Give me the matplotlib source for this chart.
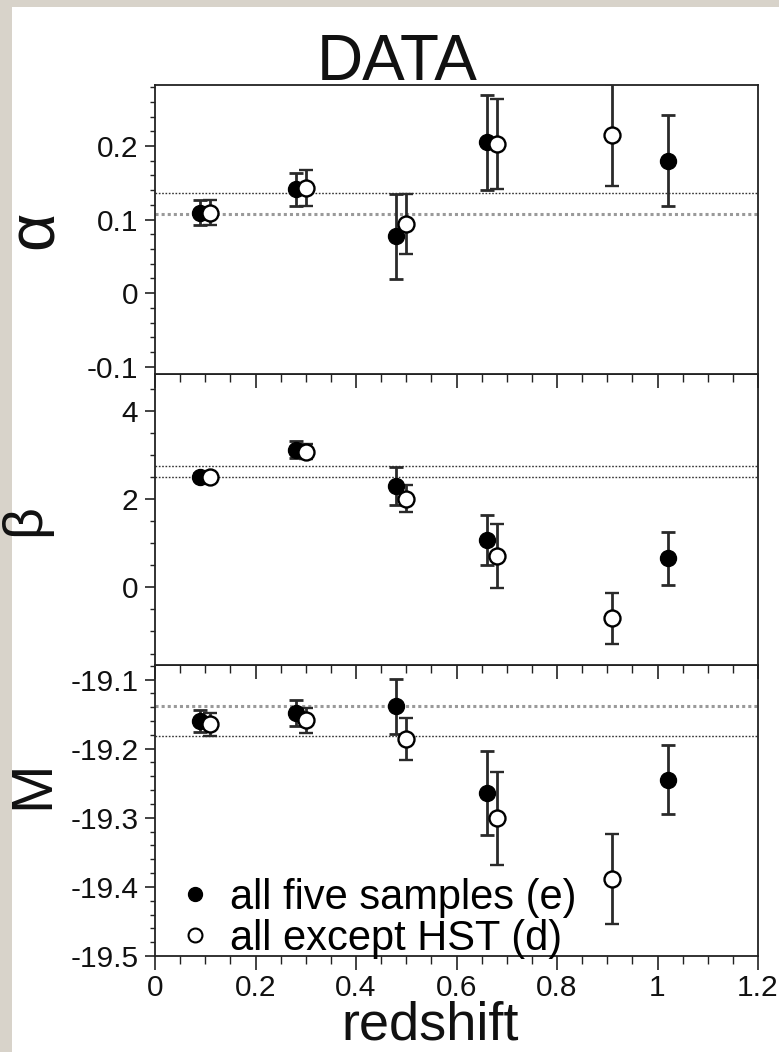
import matplotlib
matplotlib.use("Agg")
import matplotlib.pyplot as plt
from matplotlib.patches import Rectangle
from matplotlib.ticker import MultipleLocator
from matplotlib.lines import Line2D

plt.rcParams['font.family'] = ['Liberation Sans', 'DejaVu Sans']
plt.rcParams['axes.unicode_minus'] = False

# ---- data ----
z_e = [0.09, 0.28, 0.48, 0.66, 1.02]          # all five samples (e)
z_d = [0.11, 0.30, 0.50, 0.68, 0.91]          # all except HST (d)

alpha_e = [0.109, 0.141, 0.077, 0.205, 0.180]
alpha_e_err = [0.017, 0.023, 0.058, 0.065, 0.062]
alpha_d = [0.109, 0.143, 0.094, 0.203, 0.215]
alpha_d_err = [0.017, 0.024, 0.041, 0.061, 0.070]

beta_e = [2.50, 3.12, 2.29, 1.07, 0.66]
beta_e_err = [0.08, 0.20, 0.43, 0.57, 0.60]
beta_d = [2.49, 3.07, 2.01, 0.71, -0.70]
beta_d_err = [0.08, 0.17, 0.30, 0.73, 0.58]

M_e = [-19.160, -19.148, -19.139, -19.264, -19.245]
M_e_err = [0.016, 0.019, 0.040, 0.061, 0.050]
M_d = [-19.165, -19.159, -19.186, -19.301, -19.388]
M_d_err = [0.016, 0.018, 0.031, 0.067, 0.065]

alpha_ref = [0.136, 0.108]
beta_ref = [2.754, 2.505]
M_ref = [-19.138, -19.182]

x_ticks = [0, 0.2, 0.4, 0.6, 0.8, 1.0, 1.2]
x_ticklabels = ['0', '0.2', '0.4', '0.6', '0.8', '1', '1.2']
alpha_ticks = [-0.1, 0, 0.1, 0.2]
alpha_ticklabels = ['-0.1', '0', '0.1', '0.2']
beta_ticks = [0, 2, 4]
beta_ticklabels = ['0', '2', '4']
M_ticks = [-19.5, -19.4, -19.3, -19.2, -19.1]
M_ticklabels = ['-19.5', '-19.4', '-19.3', '-19.2', '-19.1']

legend_labels = ['all five samples (e)', 'all except HST (d)']

# ---- figure ----
W, H = 779, 1052
fig = plt.figure(figsize=(W / 100, H / 100), dpi=100, facecolor='#d8d3ca')
fig.patches.append(Rectangle((12 / W, 0), 1 - 12 / W, 1 - 7 / H,
                             transform=fig.transFigure, facecolor='white',
                             edgecolor='none', zorder=-10))

left = 155 / W
width = 603 / W
def ax_rect(top_px, bot_px):
    return [left, 1 - bot_px / H, width, (bot_px - top_px) / H]

ax_a = fig.add_axes(ax_rect(85, 374))
ax_b = fig.add_axes(ax_rect(374, 665))
ax_m = fig.add_axes(ax_rect(665, 956))

dark = '#222222'
ecol = '#2a2a2a'

panels = [
    (ax_a, alpha_e, alpha_e_err, alpha_d, alpha_d_err, alpha_ref,
     (-0.11, 0.283), alpha_ticks, alpha_ticklabels, 0.02, '\u03b1', 48,
     [('dark', 1.0), ('gray', 2.2)]),
    (ax_b, beta_e, beta_e_err, beta_d, beta_d_err, beta_ref,
     (-1.76, 4.83), beta_ticks, beta_ticklabels, 0.5, '\u03b2', 40,
     [('dark', 1.0), ('dark', 1.0)]),
    (ax_m, M_e, M_e_err, M_d, M_d_err, M_ref,
     (-19.5, -19.079), M_ticks, M_ticklabels, 0.02, 'M', 42,
     [('gray', 2.2), ('dark', 1.0)]),
]

for (ax, ye, yee, yd, yde, refs, ylim, yt, ytl, minor, lab, lfs, rstyles) in panels:
    ax.set_facecolor('white')
    ax.set_xlim(0, 1.2)
    ax.set_ylim(*ylim)
    for r, (c, lw) in zip(refs, rstyles):
        ax.axhline(r, color=('#333333' if c == 'dark' else '#9a9a9a'),
                   lw=lw, ls=(0, (1.2, 1.2)) if c == 'dark' else (0, (1, 1)),
                   zorder=1)
    ax.errorbar(z_e, ye, yerr=yee, fmt='o', ms=11.5, mfc='black', mec='black',
                ecolor=ecol, elinewidth=2.0, capsize=5, capthick=2.0, zorder=3)
    ax.errorbar(z_d, yd, yerr=yde, fmt='o', ms=11.5, mfc='white', mec='black',
                mew=1.7, ecolor=ecol, elinewidth=2.0, capsize=5, capthick=2.0,
                zorder=3)
    ax.set_yticks(yt)
    ax.set_yticklabels(ytl)
    ax.yaxis.set_minor_locator(MultipleLocator(minor))
    ax.set_xticks(x_ticks)
    ax.xaxis.set_minor_locator(MultipleLocator(0.05))
    ax.tick_params(axis='y', which='major', direction='out', length=7,
                   width=1.2, color=dark, labelsize=21.5, pad=5,
                   labelcolor='#111111')
    ax.tick_params(axis='y', which='minor', direction='out', length=3.5,
                   width=1.0, color=dark)
    ax.tick_params(axis='x', which='major', direction='out', length=10,
                   width=1.2, color=dark, labelsize=21.5, pad=3,
                   labelcolor='#111111')
    ax.tick_params(axis='x', which='minor', direction='out', length=5.5,
                   width=1.0, color=dark)
    for s in ax.spines.values():
        s.set_color(dark)
        s.set_linewidth(1.3)
    ax.set_ylabel(lab, fontsize=lfs, labelpad=0, color='#111111')

ax_a.yaxis.set_label_coords(-0.147, 0.5)
ax_b.yaxis.set_label_coords(-0.172, 0.5)
ax_m.yaxis.set_label_coords(-0.157, 0.59)
ax_a.set_xticklabels([])
ax_b.set_xticklabels([])
ax_m.set_xticklabels(x_ticklabels)
ax_a.set_zorder(3)
ax_b.set_zorder(2)
ax_m.set_zorder(1)

handles = [Line2D([], [], ls='none', marker='o', ms=10, mfc='black', mec='black'),
           Line2D([], [], ls='none', marker='o', ms=10, mfc='white', mec='black', mew=1.5)]
ax_m.legend(handles, legend_labels, loc='lower left', bbox_to_anchor=(0.045, -0.01),
            frameon=False, fontsize=30, handlelength=0.6, handletextpad=0.55,
            labelspacing=0.02, borderaxespad=0, borderpad=0)

fig.text(397 / W, 1 - 80 / H, 'DATA', ha='center', va='baseline', fontsize=46,
         color='#111111')
fig.text(430 / W, 1 - 1040 / H, 'redshift', ha='center', va='baseline',
         fontsize=39, color='#111111')

fig.savefig('out.png', dpi=100, facecolor=fig.get_facecolor())
